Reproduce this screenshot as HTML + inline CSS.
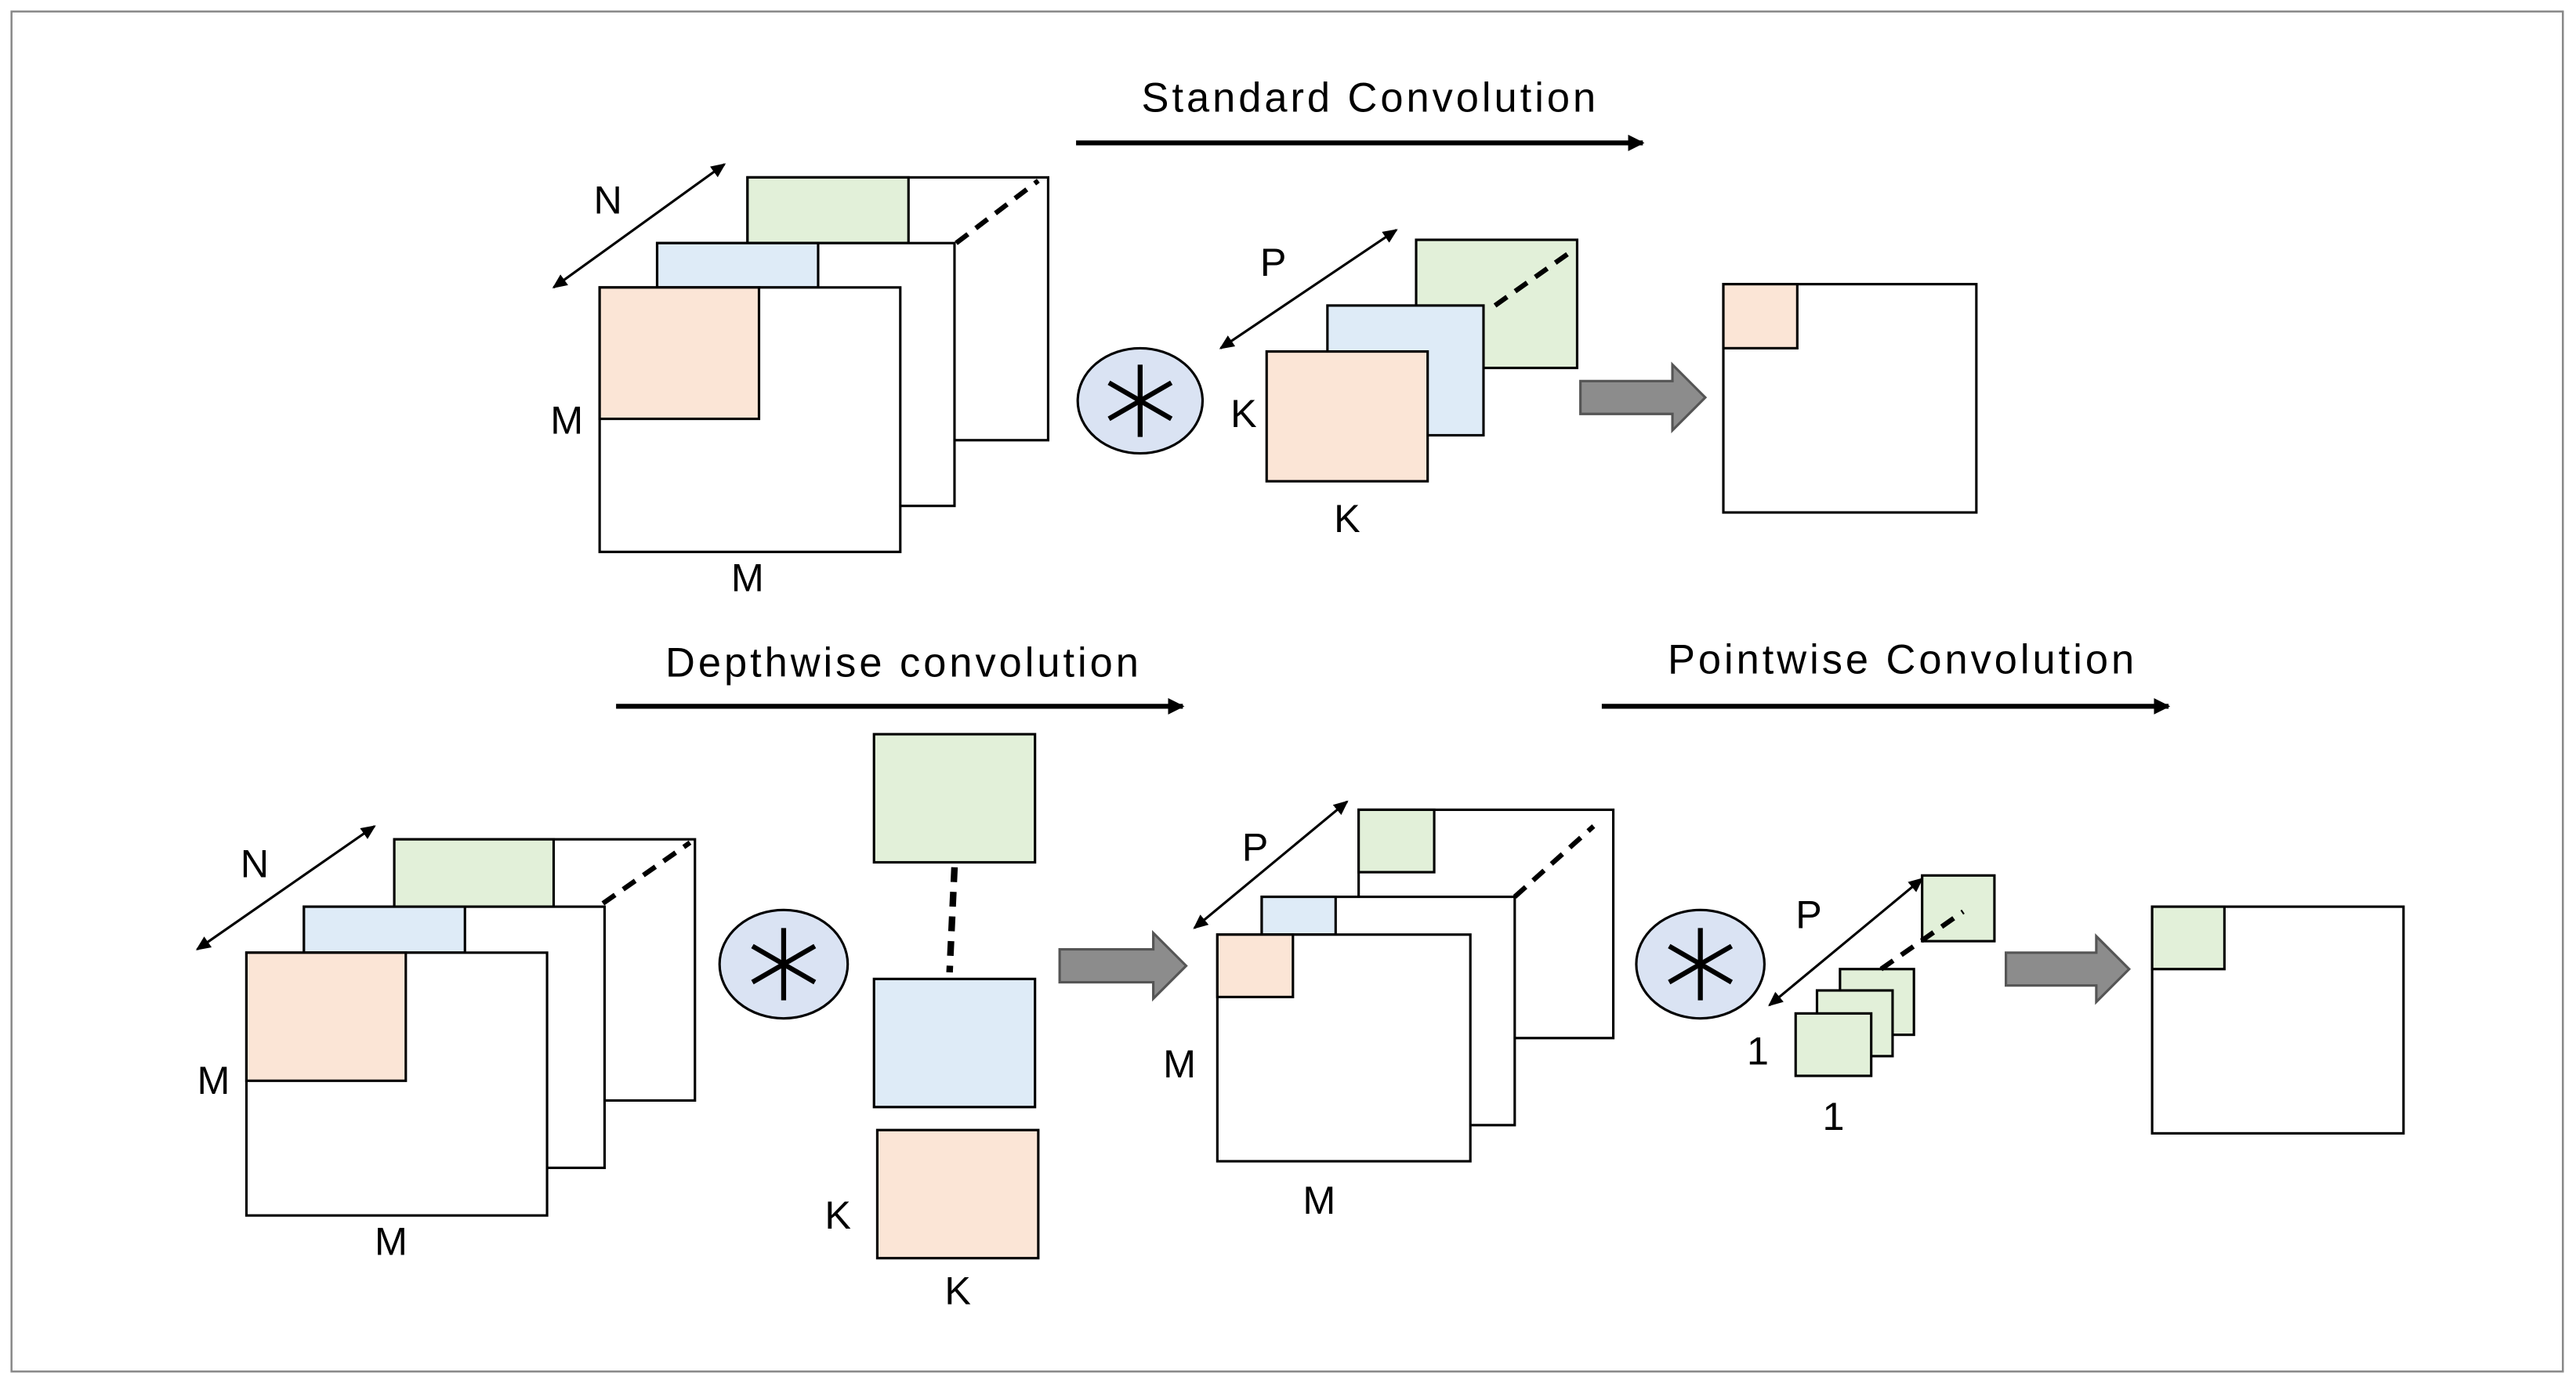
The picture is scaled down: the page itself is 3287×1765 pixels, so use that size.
<!DOCTYPE html>
<html><head><meta charset="utf-8"><style>
html,body{margin:0;padding:0;background:#fff;}
svg{display:block;}
text{font-family:"Liberation Sans",sans-serif;font-size:24px;fill:#000;}
text.t{font-size:25px;letter-spacing:1.9px;}
</style></head><body>
<svg width="3287" height="1765" viewBox="0 0 1568 842" preserveAspectRatio="none" xmlns="http://www.w3.org/2000/svg">
<defs>
<marker id="ah" markerWidth="10" markerHeight="10" refX="9" refY="5" orient="auto" markerUnits="userSpaceOnUse"><path d="M0,0 L10,5 L0,10 z" fill="#000"/></marker>
<marker id="sh" markerWidth="9" markerHeight="8" refX="8" refY="4" orient="auto-start-reverse" markerUnits="userSpaceOnUse"><path d="M0,0 L9,4 L0,8 z" fill="#000"/></marker>
<g id="ast"><line x1="0" y1="-22" x2="0" y2="22" stroke="#000" stroke-width="3"/><line x1="-19" y1="-11" x2="19" y2="11" stroke="#000" stroke-width="3"/><line x1="-19" y1="11" x2="19" y2="-11" stroke="#000" stroke-width="3"/></g>
</defs>
<rect x="0" y="0" width="1568" height="842" fill="#fff"/>
<rect x="7" y="7" width="1553" height="828" fill="none" stroke="#888" stroke-width="1.2"/>
<g stroke="#000" stroke-width="1.5">
<line x1="655" y1="87" x2="1000" y2="87" stroke-width="3" marker-end="url(#ah)"/>
<rect x="455" y="108" width="183" height="160" fill="#fff"/>
<rect x="455" y="108" width="98" height="40" fill="#e2f0d9"/>
<rect x="400" y="148" width="181" height="160" fill="#fff"/>
<rect x="400" y="148" width="98" height="27" fill="#deebf7"/>
<rect x="365" y="175" width="183" height="161" fill="#fff"/>
<rect x="365" y="175" width="97" height="80" fill="#fbe5d6"/>
<line x1="582" y1="148" x2="632" y2="110" stroke-width="3" stroke-dasharray="9,6"/>
<line x1="337" y1="175" x2="441" y2="100" marker-start="url(#sh)" marker-end="url(#sh)"/>
<ellipse cx="694" cy="244" rx="38" ry="32" fill="#dae3f3"/>
<rect x="862" y="146" width="98" height="78" fill="#e2f0d9"/>
<rect x="808" y="186" width="95" height="79" fill="#deebf7"/>
<rect x="771" y="214" width="98" height="79" fill="#fbe5d6"/>
<line x1="910" y1="186" x2="958" y2="152" stroke-width="3" stroke-dasharray="9,6"/>
<line x1="743" y1="212" x2="850" y2="140" marker-start="url(#sh)" marker-end="url(#sh)"/>
<path d="M962,232 L1018,232 L1018,222 L1038,242 L1018,262 L1018,252 L962,252 z" fill="#8c8c8c" stroke="#555"/>
<rect x="1049" y="173" width="154" height="139" fill="#fff"/>
<rect x="1049" y="173" width="45" height="39" fill="#fbe5d6"/>
<line x1="375" y1="430" x2="720" y2="430" stroke-width="3" marker-end="url(#ah)"/>
<line x1="975" y1="430" x2="1320" y2="430" stroke-width="3" marker-end="url(#ah)"/>
<rect x="240" y="511" width="183" height="159" fill="#fff"/>
<rect x="240" y="511" width="97" height="41" fill="#e2f0d9"/>
<rect x="185" y="552" width="183" height="159" fill="#fff"/>
<rect x="185" y="552" width="98" height="28" fill="#deebf7"/>
<rect x="150" y="580" width="183" height="160" fill="#fff"/>
<rect x="150" y="580" width="97" height="78" fill="#fbe5d6"/>
<line x1="367" y1="550" x2="420" y2="513" stroke-width="3" stroke-dasharray="9,6"/>
<line x1="120" y1="578" x2="228" y2="503" marker-start="url(#sh)" marker-end="url(#sh)"/>
<ellipse cx="477" cy="587" rx="39" ry="33" fill="#dae3f3"/>
<rect x="532" y="447" width="98" height="78" fill="#e2f0d9"/>
<line x1="581" y1="528" x2="578" y2="592" stroke-width="4" stroke-dasharray="9,6"/>
<rect x="532" y="596" width="98" height="78" fill="#deebf7"/>
<rect x="534" y="688" width="98" height="78" fill="#fbe5d6"/>
<path d="M645,578 L702,578 L702,568 L722,588 L702,608 L702,598 L645,598 z" fill="#8c8c8c" stroke="#555"/>
<rect x="827" y="493" width="155" height="139" fill="#fff"/>
<rect x="827" y="493" width="46" height="38" fill="#e2f0d9"/>
<rect x="768" y="546" width="154" height="139" fill="#fff"/>
<rect x="768" y="546" width="45" height="23" fill="#deebf7"/>
<rect x="741" y="569" width="154" height="138" fill="#fff"/>
<rect x="741" y="569" width="46" height="38" fill="#fbe5d6"/>
<line x1="922" y1="546" x2="970" y2="503" stroke-width="3" stroke-dasharray="9,6"/>
<line x1="727" y1="565" x2="820" y2="488" marker-start="url(#sh)" marker-end="url(#sh)"/>
<ellipse cx="1035" cy="587" rx="39" ry="33" fill="#dae3f3"/>
<rect x="1170" y="533" width="44" height="40" fill="#e2f0d9"/>
<rect x="1120" y="590" width="45" height="40" fill="#e2f0d9"/>
<rect x="1106" y="603" width="46" height="40" fill="#e2f0d9"/>
<rect x="1093" y="617" width="46" height="38" fill="#e2f0d9"/>
<line x1="1145" y1="590" x2="1195" y2="555" stroke-width="3" stroke-dasharray="9,6"/>
<line x1="1077" y1="612" x2="1170" y2="535" marker-start="url(#sh)" marker-end="url(#sh)"/>
<path d="M1221,580 L1276,580 L1276,570 L1296,590 L1276,610 L1276,600 L1221,600 z" fill="#8c8c8c" stroke="#555"/>
<rect x="1310" y="552" width="153" height="138" fill="#fff"/>
<rect x="1310" y="552" width="44" height="38" fill="#e2f0d9"/>
</g>
<use href="#ast" x="694" y="244"/>
<use href="#ast" x="477" y="587"/>
<use href="#ast" x="1035" y="587"/>
<g text-anchor="middle">
<text class="t" x="834" y="68">Standard Convolution</text>
<text class="t" x="550" y="412">Depthwise convolution</text>
<text class="t" x="1158" y="410">Pointwise Convolution</text>
<text x="370" y="130">N</text>
<text x="345" y="264">M</text>
<text x="455" y="360">M</text>
<text x="775" y="168">P</text>
<text x="757" y="260">K</text>
<text x="820" y="324">K</text>
<text x="155" y="534">N</text>
<text x="130" y="666">M</text>
<text x="238" y="764">M</text>
<text x="510" y="748">K</text>
<text x="583" y="794">K</text>
<text x="764" y="524">P</text>
<text x="718" y="656">M</text>
<text x="803" y="739">M</text>
<text x="1101" y="565">P</text>
<text x="1070" y="648">1</text>
<text x="1116" y="688">1</text>
</g>
</svg>
</body></html>
